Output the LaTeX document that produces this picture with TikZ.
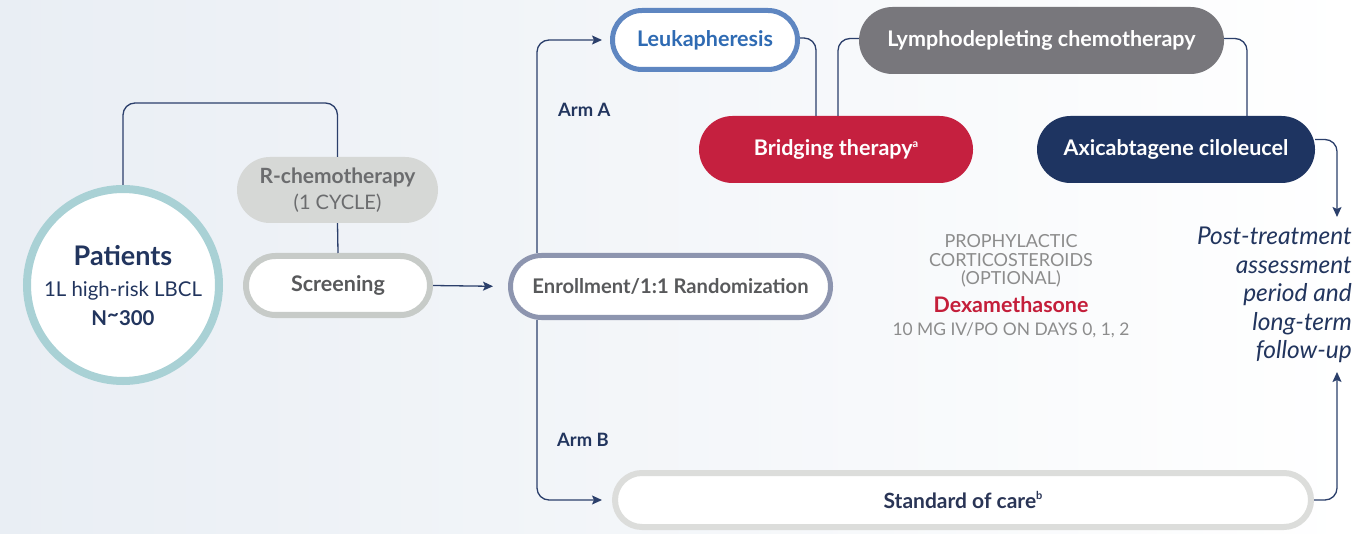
\documentclass[tikz,border=0pt]{standalone}
\usepackage{fontspec}
\setmainfont{Lato}
\usetikzlibrary{arrows.meta,calc}
\definecolor{bgl}{HTML}{E9EEF4}
\definecolor{navy}{HTML}{22355E}
\definecolor{conn}{HTML}{2B3F6B}
\definecolor{tealc}{HTML}{A9D1D5}
\definecolor{rchf}{HTML}{D6D8D6}
\definecolor{rcht}{HTML}{6B6C6E}
\definecolor{scrb}{HTML}{C7CBC8}
\definecolor{txtg}{HTML}{58595B}
\definecolor{enrb}{HTML}{8D95AF}
\definecolor{leub}{HTML}{5E86C1}
\definecolor{leut}{HTML}{2F6BB3}
\definecolor{brif}{HTML}{C5203F}
\definecolor{lymf}{HTML}{78777C}
\definecolor{axif}{HTML}{1E3461}
\definecolor{socb}{HTML}{DCDDDB}
\definecolor{soct}{HTML}{2A3556}
\definecolor{prog}{HTML}{8C8C8C}
\definecolor{dexr}{HTML}{C41E3A}
\newcommand\supmark[1]{\raisebox{0.75ex}{\fontsize{11}{11}\selectfont #1}}
\tikzset{
  pillbox/.style 2 args={rectangle, minimum width=#1, minimum height=#2, rounded corners=#2/2, inner sep=0pt},
  boxfont/.style={font=\fontsize{21.5}{25}\selectfont\bfseries},
  link/.style={draw=conn, line width=1.3pt, rounded corners=12pt},
  arr/.style={link, -{Stealth[length=10pt,width=9pt,inset=2pt]}},
  armlabel/.style={font=\fontsize{18.4}{21}\selectfont\bfseries, text=navy, anchor=west, inner sep=0pt},
}
\begin{document}
\begin{tikzpicture}[x=1pt,y=-1pt]
\useasboundingbox (0,0) rectangle (1356,534);
\shade[left color=bgl,right color=white] (0,0) rectangle (1356,534);

% nodes
\node[circle, draw=tealc, line width=8pt, fill=white, minimum size=192pt, inner sep=0pt] (patients) at (123,285) {};
\node[align=center, text=navy, font=\fontsize{20.4}{29}\selectfont, inner sep=0pt] (ptxt) at (123,286) {{\fontsize{27}{30}\selectfont\bfseries Patients}\\[2pt]1L high-risk LBCL\\{\bfseries N\raisebox{0.45ex}{\textasciitilde}300}};

\node[pillbox={201pt}{66pt}, fill=rchf, text=rcht, align=center, font=\fontsize{20}{26}\selectfont] (rchemo) at (337.5,190) {{\fontsize{21}{26}\selectfont\bfseries R-chemotherapy}\\(1 CYCLE)};
\node[pillbox={184pt}{59pt}, draw=scrb, line width=6pt, fill=white, text=txtg, boxfont] (screen) at (338,285.5) {Screening};
\node[pillbox={320pt}{62pt}, draw=enrb, line width=5pt, fill=white, text=txtg, font=\fontsize{20.2}{24}\selectfont\bfseries] (enroll) at (670.5,286.5) {Enrollment/1:1 Randomization};
\node[pillbox={185pt}{59pt}, draw=leub, line width=5pt, fill=white, text=leut, boxfont] (leuk) at (705,40) {Leukapheresis};
\node[pillbox={274pt}{67pt}, fill=brif, text=white, boxfont] (bridge) at (836,149.5) {Bridging therapy\supmark{a}};
\node[pillbox={365pt}{67pt}, fill=lymf, text=white, boxfont] (lympho) at (1041.5,40.5) {Lymphodepleting chemotherapy};
\node[pillbox={278pt}{67pt}, fill=axif, text=white, boxfont] (axi) at (1176,149.5) {Axicabtagene ciloleucel};
\node[pillbox={696pt}{54pt}, draw=socb, line width=6pt, fill=white, text=soct, font=\fontsize{21}{24}\selectfont\bfseries] (soc) at (963,500) {Standard of care\supmark{b}};

\node[armlabel] (arma) at (558,110) {Arm A};
\node[armlabel] (armb) at (557,440) {Arm B};

\node[align=center, text=prog, font=\fontsize{18}{18.5}\selectfont, inner sep=0pt] (proph) at (1011,261) {PROPHYLACTIC\\CORTICOSTEROIDS\\(OPTIONAL)};
\node[text=dexr, font=\fontsize{21.4}{24}\selectfont\bfseries, inner sep=0pt] (dexa) at (1011,305) {Dexamethasone};
\node[text=prog, font=\fontsize{17.4}{20}\selectfont, inner sep=0pt] (dose) at (1011,330) {10 MG IV/PO ON DAYS 0, 1, 2};

\node[align=right, text=navy, font=\fontsize{24.5}{28.5}\selectfont\itshape, inner sep=0pt, anchor=east] (post) at (1352,295) {Post-treatment\\assessment\\period and\\long-term\\follow-up};

% helper coordinates
\coordinate (armx) at (537,0);
\coordinate (postin) at (1337,217);
\coordinate (postin2) at (1337,372);

% connectors
\draw[link] (patients.north) -- ++(0,-82) -| (rchemo.north);
\draw[link] (rchemo.south) -- (screen.north);
\draw[arr, shorten >=15pt] (screen.east) -- (enroll.west);
\draw[arr, shorten >=8pt] (enroll.north -| armx) |- (leuk.west);
\draw[arr, shorten >=10pt] (enroll.south -| armx) |- (soc.west);
\draw[link] ([yshift=2pt]leuk.east) -| ([xshift=-20pt]bridge.north);
\draw[link] ([xshift=2pt]bridge.north) |- ([yshift=2pt]lympho.west);
\draw[link] ([yshift=2pt]lympho.east) -| ([xshift=71pt]axi.north);
\draw[arr] ([yshift=10pt]axi.east) -| (postin);
\draw[arr] (soc.east) -| (postin2);
\end{tikzpicture}
\end{document}
